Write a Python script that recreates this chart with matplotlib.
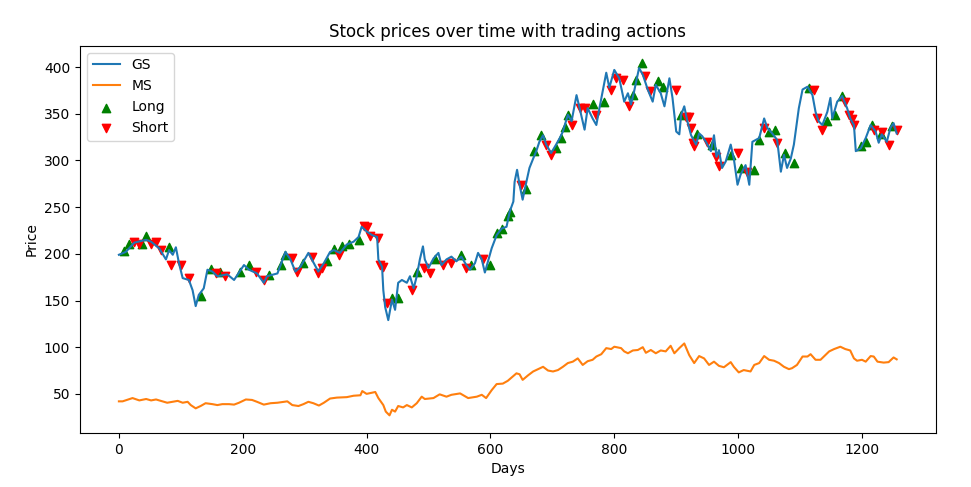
import matplotlib
matplotlib.use("Agg")
import matplotlib.pyplot as plt

gs_days = [0, 11, 25, 44, 52, 65, 76, 81, 87, 92, 97, 103, 113, 119, 124, 129, 137, 143, 151, 159,
           175, 186, 202, 210, 223, 234, 239, 256, 269, 277, 285, 293, 306, 322, 331, 341, 347, 357,
           368, 379, 387, 392, 400, 409, 417, 419, 425, 427, 430, 435, 441, 446, 451, 457, 465, 470,
           476, 481, 486, 491, 494, 500, 508, 516, 521, 529, 537, 545, 553, 561, 567, 575, 580, 586,
           591, 596, 602, 610, 618, 626, 631, 637, 639, 643, 647, 652, 658, 663, 669, 674, 679, 685,
           690, 698, 706, 712, 717, 725, 731, 739, 744, 752, 757, 765, 771, 776, 787, 792, 800, 808,
           816, 822, 827, 832, 840, 846, 854, 862, 867, 875, 881, 889, 894, 900, 905, 908, 913, 918,
           924, 932, 937, 942, 948, 956, 961, 965, 969, 974, 980, 988, 993, 999, 1004, 1012, 1018,
           1023, 1034, 1042, 1047, 1055, 1063, 1069, 1074, 1079, 1085, 1090, 1098, 1104, 1112, 1120,
           1125, 1130, 1136, 1144, 1149, 1152, 1160, 1168, 1176, 1181, 1187, 1190, 1198, 1206, 1214,
           1222, 1227, 1232, 1240, 1246, 1251, 1256]
gs_prices = [199, 202, 212, 215, 213, 206, 194, 204, 199, 207, 190, 174, 172, 161, 144, 156, 163, 183,
             181, 176, 178, 172, 188, 183, 179, 169, 176, 179, 202, 194, 181, 186, 201, 181, 190, 202,
             204, 201, 210, 213, 218, 229, 224, 220, 218, 194, 186, 161, 143, 129, 151, 140, 169, 172,
             169, 176, 163, 176, 194, 208, 194, 185, 195, 201, 188, 194, 197, 192, 197, 188, 183, 190,
             201, 194, 180, 192, 206, 220, 227, 229, 245, 256, 277, 290, 274, 258, 277, 292, 302, 310,
             320, 327, 317, 308, 317, 324, 331, 349, 342, 370, 356, 333, 356, 345, 338, 356, 394, 378,
             397, 388, 363, 372, 360, 374, 399, 392, 376, 363, 381, 372, 358, 388, 367, 331, 328, 349,
             358, 342, 327, 317, 329, 326, 320, 310, 327, 304, 311, 292, 299, 317, 302, 274, 285, 295,
             274, 320, 324, 345, 335, 329, 322, 288, 306, 292, 302, 317, 356, 376, 379, 370, 352, 342,
             338, 352, 367, 345, 363, 369, 356, 345, 338, 310, 313, 324, 338, 331, 319, 328, 320, 335,
             340, 329]

ms_days = [0, 6, 22, 33, 44, 52, 60, 70, 78, 87, 95, 103, 111, 116, 124, 132, 140, 151, 159, 167, 178,
           186, 194, 205, 215, 223, 234, 245, 256, 272, 280, 290, 298, 306, 314, 323, 331, 341, 352,
           368, 379, 390, 393, 400, 414, 419, 427, 431, 437, 441, 446, 451, 459, 465, 473, 481, 489,
           494, 508, 518, 529, 537, 551, 564, 578, 586, 593, 602, 610, 620, 628, 642, 647, 652, 661,
           669, 677, 685, 693, 701, 709, 717, 725, 733, 741, 749, 757, 765, 771, 779, 787, 795, 800,
           811, 816, 822, 830, 838, 846, 851, 859, 867, 875, 883, 891, 897, 905, 913, 921, 929, 937,
           945, 953, 961, 969, 977, 988, 993, 1001, 1009, 1020, 1026, 1034, 1042, 1050, 1058, 1066,
           1074, 1082, 1087, 1095, 1104, 1112, 1117, 1125, 1133, 1147, 1155, 1165, 1173, 1181, 1187,
           1192, 1200, 1206, 1214, 1219, 1225, 1235, 1243, 1251, 1256]
ms_prices = [42, 42, 45.5, 43, 44.5, 43, 44, 42, 40.5, 41.5, 42.5, 40.5, 41.5, 38, 34.5, 37, 40, 39,
             38, 39, 39, 38.5, 40.5, 44, 43.5, 41.5, 38.5, 40, 40.5, 42, 38, 37, 39, 41.5, 40, 37.5,
             40.5, 45, 46, 46.5, 48, 48.5, 53, 50, 52, 45.5, 38, 31, 27, 33, 31, 37, 35.5, 38, 35.5,
             40, 47, 44.5, 45.5, 49.5, 47, 49, 50.5, 45.5, 47, 49, 45.5, 54, 60.5, 61, 64, 72, 71, 65,
             70, 74, 76.5, 79, 75, 74, 75.5, 79, 83, 84.5, 88, 81, 85, 86.5, 90, 92.5, 99, 98, 100.5,
             99, 95.5, 93.5, 96.5, 97, 100, 94, 97, 93.5, 96.5, 95.5, 101.5, 93.5, 99, 104, 91.5, 83,
             90.5, 88, 81, 84.5, 80, 78.5, 84, 79, 73, 75.5, 74, 81, 83, 90.5, 86.5, 85.5, 83, 79,
             76.5, 77.5, 81, 90, 90, 92.5, 86.5, 86.5, 95.5, 98, 100.5, 98, 96.5, 88, 85.5, 86.5,
             84.5, 90.5, 90, 84.5, 83.5, 84, 89, 87]

long_days = [8, 17, 38, 44, 81, 132, 148, 164, 196, 210, 242, 261, 269, 298, 336, 347, 360, 371, 387,
             441, 451, 481, 510, 553, 569, 599, 610, 618, 628, 631, 658, 671, 682, 706, 714, 720, 725,
             765, 784, 830, 835, 844, 870, 878, 908, 934, 958, 988, 1004, 1026, 1034, 1050, 1060,
             1076, 1090, 1115, 1144, 1157, 1168, 1198, 1206, 1216, 1231, 1248]
long_prices = [203, 211, 210, 219, 207, 155, 184, 181, 181, 188, 177, 188, 199, 190, 192, 205, 208,
               211, 215, 153, 153, 181, 194, 199, 188, 188, 222, 227, 240, 245, 269, 310, 327, 313,
               324, 336, 349, 360, 363, 370, 386, 404, 385, 379, 349, 328, 317, 306, 292, 290, 322,
               331, 333, 308, 297, 378, 342, 349, 369, 315, 320, 338, 328, 337]

short_days = [25, 33, 52, 60, 68, 84, 100, 113, 156, 172, 221, 234, 280, 288, 312, 322, 328, 355, 395,
              400, 406, 419, 422, 427, 433, 473, 492, 502, 524, 537, 561, 588, 650, 690, 698, 731,
              744, 752, 771, 795, 803, 814, 824, 849, 857, 900, 915, 921, 924, 927, 929, 950, 964,
              969, 999, 1015, 1042, 1063, 1123, 1128, 1136, 1173, 1179, 1184, 1187, 1219, 1232,
              1243, 1256]
short_prices = [213, 211, 210, 213, 204, 188, 188, 174, 179, 176, 181, 172, 195, 181, 197, 179, 185,
                199, 230, 229, 219, 217, 188, 186, 147, 161, 185, 179, 188, 190, 185, 194, 274, 317,
                306, 338, 356, 356, 349, 376, 388, 386, 358, 390, 374, 376, 347, 347, 335, 319, 315,
                320, 304, 294, 308, 288, 335, 319, 376, 345, 333, 363, 349, 344, 338, 333, 331, 317,
                333]

fig, ax = plt.subplots(figsize=(9.71, 4.87), dpi=100)
fig.subplots_adjust(left=0.0824, right=0.9635, top=0.906, bottom=0.111)

ax.plot(gs_days, gs_prices, label="GS")
ax.plot(ms_days, ms_prices, label="MS")
ax.scatter(long_days, long_prices, marker="^", color="green", label="Long")
ax.scatter(short_days, short_prices, marker="v", color="red", label="Short")

ax.set_title("Stock prices over time with trading actions")
ax.set_xlabel("Days")
ax.set_ylabel("Price")
ax.legend(loc="upper left")

fig.savefig("out.png", dpi=100)
